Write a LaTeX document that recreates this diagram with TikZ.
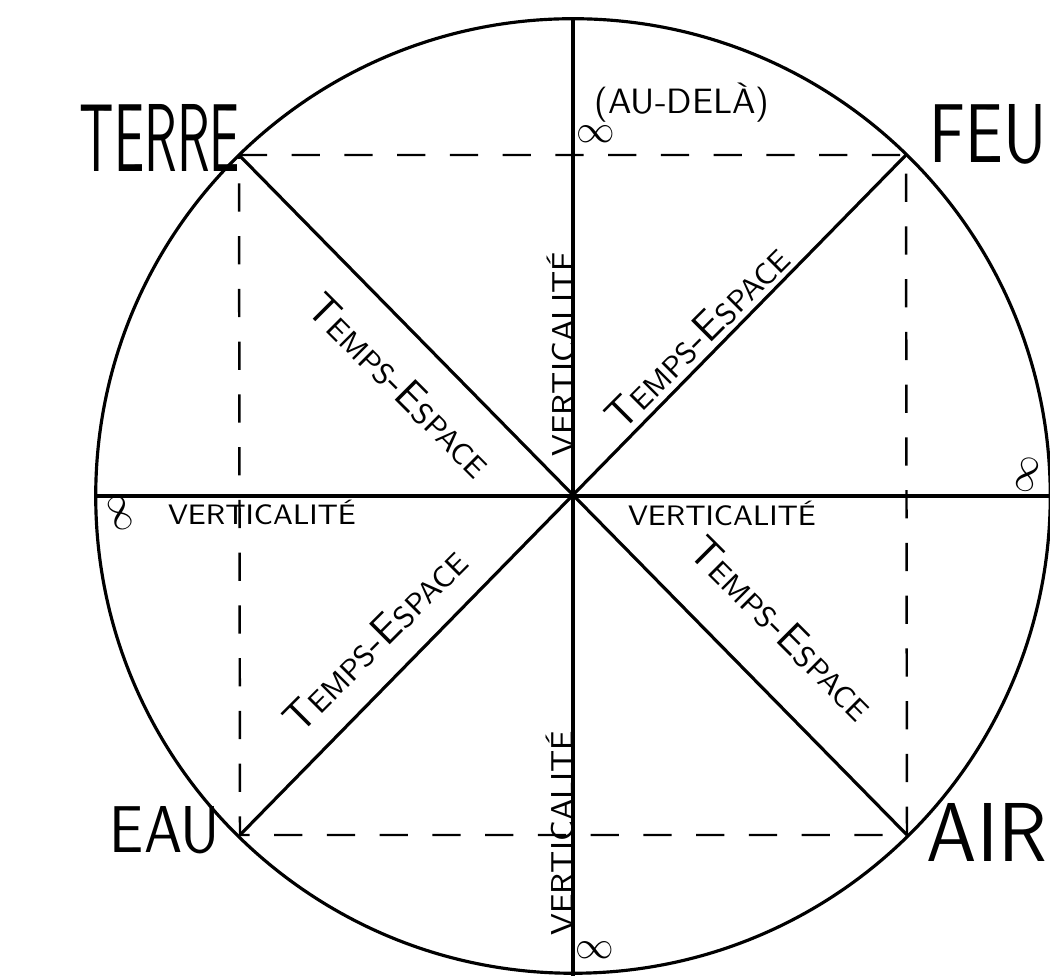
\documentclass[tikz,border=0pt]{standalone}
\usepackage{amsmath}
\usepackage{amssymb}
\usepackage{tikz}

\newcommand{\petit}[1]{{\fontsize{8.5}{9}\selectfont #1}}
\newcommand{\tempsespace}{T\petit{EMPS}-E\petit{SPACE}}

\begin{document}
\begin{tikzpicture}[
    x=0.01cm, y=-0.01cm,
    trait/.style={line width=0.9pt},
    pointille/.style={line width=0.7pt, dash pattern=on 8pt off 7pt},
    element/.style={inner sep=0pt, font=\sffamily},
    axe/.style={inner sep=0pt, font=\sffamily\fontsize{9}{10}\selectfont},
    diag/.style={inner sep=0pt, font=\sffamily\fontsize{12}{13}\selectfont},
    infini/.style={inner sep=0pt, font=\fontsize{11}{12}\selectfont}
]
\useasboundingbox (0,0) rectangle (1050,980);

\coordinate (centre) at (573,496);
\coordinate (haut) at (573,18);
\coordinate (bas) at (573,976);
\coordinate (gauche) at (97,496);
\coordinate (droite) at (1049,496);
\coordinate (terre) at (239,155);
\coordinate (feu) at (906,155);
\coordinate (eau) at (240,835);
\coordinate (air) at (907,835);

\draw[trait] (centre) circle[radius=4.77cm];
\draw[trait] (haut) -- (bas);
\draw[trait] (gauche) -- (droite);
\draw[trait] (terre) -- (air);
\draw[trait] (feu) -- (eau);

\draw[pointille] (terre) -- (feu) -- (air) -- (eau) -- cycle;

% les quatre elements
\node[element] (lterre) at (160,138) {\resizebox{1.6cm}{0.67cm}{TERRE}};
\node[element] (lfeu) at (988,134) {\resizebox{1.17cm}{0.58cm}{FEU}};
\node[element] (leau) at (165,830) {\resizebox{1.1cm}{0.46cm}{EAU}};
\node[element] (lair) at (987,832) {\resizebox{1.2cm}{0.58cm}{AIR}};

% infinis
\node[infini] (infhaut) at (596,134) {$\infty$};
\node[axe, font=\sffamily\fontsize{10}{11}\selectfont] (audela) at (682,103) {(AU-DELÀ)};
\node[infini] (infbas) at (595,950) {$\infty$};
\node[infini, rotate=110] (infgauche) at (120,513) {$\infty$};
\node[infini, rotate=75] (infdroite) at (1027,475) {$\infty$};

% verticalite
\node[axe, rotate=90] (vhaut) at (561,354) {VERTICALITÉ};
\node[axe, rotate=90] (vbas) at (560,833) {VERTICALITÉ};
\node[axe, font=\sffamily\fontsize{8}{9}\selectfont] (vgauche) at (262,512) {VERTICALITÉ};
\node[axe, font=\sffamily\fontsize{8}{9}\selectfont] (vdroite) at (722,513) {VERTICALITÉ};

% temps-espace
\node[diag, rotate=-45] (tehg) at (400,385) {\tempsespace};
\node[diag, rotate=45] (tehd) at (697,337) {\tempsespace};
\node[diag, rotate=45] (tebg) at (375,640) {\tempsespace};
\node[diag, rotate=-45] (tebd) at (782,628) {\tempsespace};
\end{tikzpicture}
\end{document}
